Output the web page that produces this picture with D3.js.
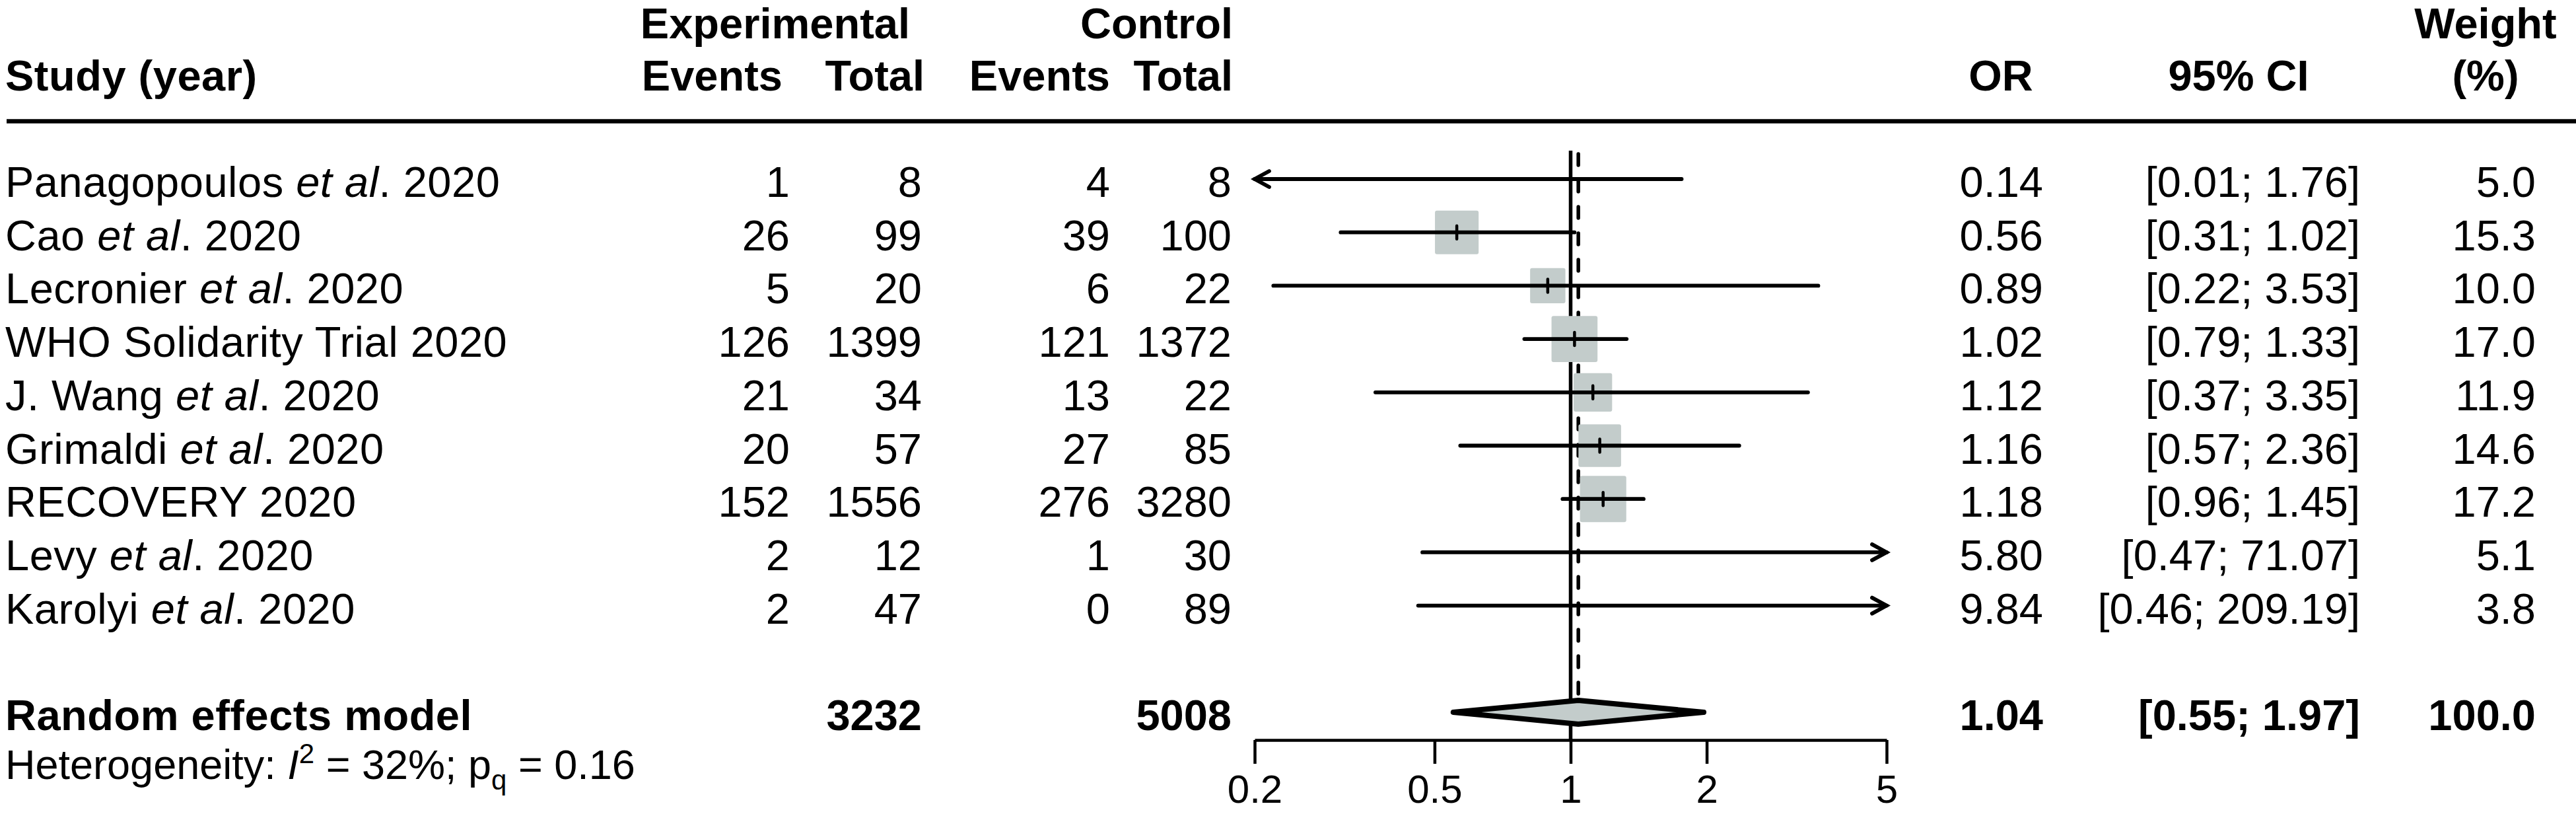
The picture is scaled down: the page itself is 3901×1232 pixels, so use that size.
<!DOCTYPE html>
<html>
<head>
<meta charset="utf-8">
<script src="https://cdn.jsdelivr.net/npm/d3@7"></script>
<style>
  html, body { margin: 0; padding: 0; background: #ffffff; }
  svg { display: block; }
  text { font-family: "Liberation Sans", Arial, Helvetica, sans-serif; fill: #000; }
</style>
</head>
<body>
<script>
// ---------- data ----------
const studies = [
  "Panagopoulos et al. 2020",
  "Cao et al. 2020",
  "Lecronier et al. 2020",
  "WHO Solidarity Trial 2020",
  "J. Wang et al. 2020",
  "Grimaldi et al. 2020",
  "RECOVERY 2020",
  "Levy et al. 2020",
  "Karolyi et al. 2020"
];
const expEvents  = [1, 26, 5, 126, 21, 20, 152, 2, 2];
const expTotal   = [8, 99, 20, 1399, 34, 57, 1556, 12, 47];
const ctrlEvents = [4, 39, 6, 121, 13, 27, 276, 1, 0];
const ctrlTotal  = [8, 100, 22, 1372, 22, 85, 3280, 30, 89];
const oddsRatio  = [0.14, 0.56, 0.89, 1.02, 1.12, 1.16, 1.18, 5.80, 9.84];
const ciLower    = [0.01, 0.31, 0.22, 0.79, 0.37, 0.57, 0.96, 0.47, 0.46];
const ciUpper    = [1.76, 1.02, 3.53, 1.33, 3.35, 2.36, 1.45, 71.07, 209.19];
const weights    = [5.0, 15.3, 10.0, 17.0, 11.9, 14.6, 17.2, 5.1, 3.8];

const pooledLabel = "Random effects model";
const pooledExpTotal = 3232;
const pooledCtrlTotal = 5008;
const pooledOR = 1.04;
const pooledLower = 0.55;
const pooledUpper = 1.97;
const pooledWeight = 100.0;
const heterogeneityI2 = "32%";
const heterogeneityP = "0.16";

const tickValues = [0.2, 0.5, 1, 2, 5];
const tickLabels = ["0.2", "0.5", "1", "2", "5"];

// ---------- layout ----------
const W = 3901, H = 1232;
const FS = 65;
const squareColor = "#c3cccb";

const svg = d3.select("body").append("svg")
  .attr("width", W).attr("height", H)
  .attr("viewBox", `0 0 ${W} ${H}`);

svg.append("rect").attr("width", W).attr("height", H).attr("fill", "#fff");

const x = d3.scaleLog().domain([0.2, 5]).range([1900, 2857]);
const y = d3.scaleLinear().domain([0, 10]).range([271, 1078]);
const rows = d3.range(studies.length);
const baseOff = 27;

const fmt2 = d3.format(".2f");
const fmt1 = d3.format(".1f");

// column anchors
const col = {
  name: 8,
  expEv: 1196, expTot: 1396,
  ctlEv: 1681, ctlTot: 1865,
  or: 3094, ci: 3574, w: 3840
};

// ---------- header ----------
const hdr = svg.append("g").attr("font-weight", "bold").attr("font-size", FS);
hdr.append("text").attr("x", 1378).attr("y", 58).attr("text-anchor", "end").text("Experimental");
hdr.append("text").attr("x", 1867).attr("y", 58).attr("text-anchor", "end").text("Control");
hdr.append("text").attr("x", 3764).attr("y", 58).attr("text-anchor", "middle").text("Weight");
hdr.append("text").attr("x", col.name).attr("y", 137).attr("letter-spacing", 0.5).text("Study (year)");
hdr.append("text").attr("x", 1185).attr("y", 137).attr("text-anchor", "end").text("Events");
hdr.append("text").attr("x", 1400).attr("y", 137).attr("text-anchor", "end").text("Total");
hdr.append("text").attr("x", 1681).attr("y", 137).attr("text-anchor", "end").text("Events");
hdr.append("text").attr("x", 1867).attr("y", 137).attr("text-anchor", "end").text("Total");
hdr.append("text").attr("x", 3030).attr("y", 137).attr("text-anchor", "middle").text("OR");
hdr.append("text").attr("x", 3390).attr("y", 137).attr("text-anchor", "middle").text("95% CI");
hdr.append("text").attr("x", 3764).attr("y", 137).attr("text-anchor", "middle").text("(%)");

svg.append("line").attr("x1", 10).attr("x2", W).attr("y1", 183.5).attr("y2", 183.5)
  .attr("stroke", "#000").attr("stroke-width", 6.5);

// ---------- study rows text ----------
const tg = svg.append("g").attr("font-size", FS);
rows.forEach(i => {
  const yb = y(i) + baseOff;
  const t = tg.append("text").attr("x", col.name).attr("y", yb).attr("letter-spacing", 0.5);
  const name = studies[i];
  const k = name.indexOf("et al");
  if (k >= 0) {
    t.append("tspan").text(name.slice(0, k));
    t.append("tspan").attr("font-style", "italic").text("et al");
    t.append("tspan").text(name.slice(k + 5));
  } else {
    t.text(name);
  }
  const cells = [
    [col.expEv, expEvents[i]], [col.expTot, expTotal[i]],
    [col.ctlEv, ctrlEvents[i]], [col.ctlTot, ctrlTotal[i]],
    [col.or, fmt2(oddsRatio[i])],
    [col.ci, `[${fmt2(ciLower[i])}; ${fmt2(ciUpper[i])}]`],
    [col.w, fmt1(weights[i])]
  ];
  cells.forEach(([cx, v]) => {
    tg.append("text").attr("x", cx).attr("y", yb).attr("text-anchor", "end").text(v);
  });
});

// pooled row text
const pg = svg.append("g").attr("font-size", FS).attr("font-weight", "bold");
const py = y(10) + baseOff;
pg.append("text").attr("x", col.name).attr("y", py).attr("letter-spacing", 0.5).text(pooledLabel);
pg.append("text").attr("x", col.expTot).attr("y", py).attr("text-anchor", "end").text(pooledExpTotal);
pg.append("text").attr("x", col.ctlTot).attr("y", py).attr("text-anchor", "end").text(pooledCtrlTotal);
pg.append("text").attr("x", col.or).attr("y", py).attr("text-anchor", "end").text(fmt2(pooledOR));
pg.append("text").attr("x", col.ci).attr("y", py).attr("text-anchor", "end")
  .text(`[${fmt2(pooledLower)}; ${fmt2(pooledUpper)}]`);
pg.append("text").attr("x", col.w).attr("y", py).attr("text-anchor", "end").text(fmt1(pooledWeight));

// heterogeneity
const ht = svg.append("text").attr("x", col.name).attr("y", 1179).attr("font-size", 63);
ht.append("tspan").text("Heterogeneity: ");
ht.append("tspan").attr("font-style", "italic").text("I");
ht.append("tspan").attr("font-size", 42).attr("dy", -24).text("2");
ht.append("tspan").attr("dy", 24).text(` = ${heterogeneityI2}; p`);
ht.append("tspan").attr("font-size", 42).attr("dy", 16).text("q");
ht.append("tspan").attr("dy", -16).text(` = ${heterogeneityP}`);

// ---------- plot ----------
const plot = svg.append("g");
const [xmin, xmax] = x.range();
const clampX = v => Math.max(xmin, Math.min(xmax, x(v)));

// reference line at 1
plot.append("line")
  .attr("x1", x(1)).attr("x2", x(1)).attr("y1", 228).attr("y2", 1120)
  .attr("stroke", "#000").attr("stroke-width", 5.5);

// pooled dashed line
plot.append("line")
  .attr("x1", x(pooledOR)).attr("x2", x(pooledOR)).attr("y1", 233).attr("y2", 1052)
  .attr("stroke", "#000").attr("stroke-width", 5.5)
  .attr("stroke-linecap", "round")
  .attr("stroke-dasharray", "17 23");

// squares
const sqK = 16.9;
rows.forEach(i => {
  const o = oddsRatio[i];
  if (o < 0.2 || o > 5) return;
  const s = sqK * Math.sqrt(weights[i]);
  plot.append("rect")
    .attr("x", x(o) - s / 2).attr("y", y(i) - s / 2)
    .attr("width", s).attr("height", s).attr("rx", 3)
    .attr("fill", squareColor);
});

// CI lines + arrows + centre ticks
rows.forEach(i => {
  const yc = y(i);
  const x1 = clampX(ciLower[i]);
  const x2 = clampX(ciUpper[i]);
  plot.append("line")
    .attr("x1", x1).attr("x2", x2).attr("y1", yc).attr("y2", yc)
    .attr("stroke", "#000").attr("stroke-width", 5.8).attr("stroke-linecap", "round");
  if (ciLower[i] < 0.2) {
    plot.append("path")
      .attr("d", `M${x1 + 22},${yc - 12} L${x1},${yc} L${x1 + 22},${yc + 12}`)
      .attr("fill", "none").attr("stroke", "#000").attr("stroke-width", 5.8)
      .attr("stroke-linecap", "round").attr("stroke-linejoin", "miter");
  }
  if (ciUpper[i] > 5) {
    plot.append("path")
      .attr("d", `M${x2 - 22},${yc - 12} L${x2},${yc} L${x2 - 22},${yc + 12}`)
      .attr("fill", "none").attr("stroke", "#000").attr("stroke-width", 5.8)
      .attr("stroke-linecap", "round").attr("stroke-linejoin", "miter");
  }
  const o = oddsRatio[i];
  if (o >= 0.2 && o <= 5) {
    plot.append("line")
      .attr("x1", x(o)).attr("x2", x(o)).attr("y1", yc - 10).attr("y2", yc + 10)
      .attr("stroke", "#000").attr("stroke-width", 4.5).attr("stroke-linecap", "round");
  }
});

// diamond
const dy = y(10);
plot.append("path")
  .attr("d", `M${x(pooledLower)},${dy} L${x(pooledOR)},${dy - 18} L${x(pooledUpper)},${dy} L${x(pooledOR)},${dy + 18} Z`)
  .attr("fill", squareColor).attr("stroke", "#000").attr("stroke-width", 8)
  .attr("stroke-linejoin", "round");

// x axis
const axis = d3.axisBottom(x).tickValues(tickValues)
  .tickFormat((d, i) => tickLabels[i]).tickSize(36).tickSizeOuter(0).tickPadding(20);
const ax = svg.append("g").attr("transform", "translate(0,1120)").call(axis);
ax.select(".domain").attr("stroke", "#000").attr("stroke-width", 4.5);
ax.selectAll(".tick line").attr("stroke", "#000").attr("stroke-width", 4.5);
ax.selectAll(".tick text").attr("font-size", 60).attr("fill", "#000")
  .attr("font-family", "Liberation Sans, Arial, sans-serif").attr("dy", 0).attr("y", 95);
</script>
</body>
</html>
